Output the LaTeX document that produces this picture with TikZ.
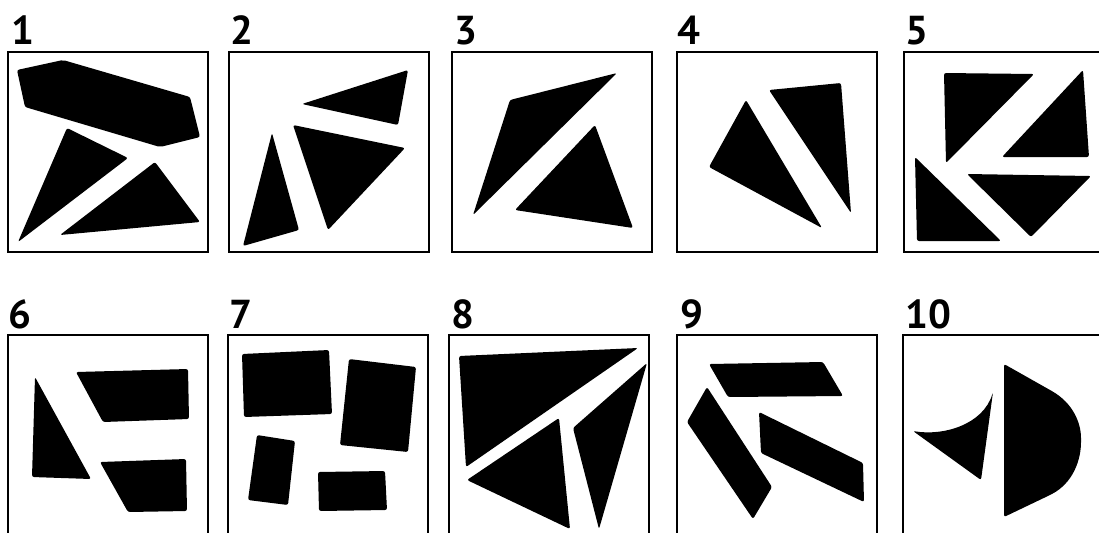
\documentclass[tikz,border=0pt]{standalone}
\usepackage{fontspec}
\setsansfont{PT Sans}
\tikzset{
  frame/.style={draw, line width=1.6pt},
  piece/.style={fill=black, rounded corners=1.2pt},
  num/.style={anchor=base west, inner sep=0pt, font=\sffamily\bfseries\fontsize{23}{23}\selectfont}
}
\begin{document}
\begin{tikzpicture}[x=0.02cm, y=-0.02cm]
    \useasboundingbox (0,0) rectangle (1099,532);

    % Size of each square panel
    \def\s{200}

    % Panel 1
    \begin{scope}[shift={(8,52)}]
        \node[num] (l1) at (3,-8) {1};
        \draw[frame] (0,0) rectangle (\s,\s);
        \fill[piece] (9,18) -- (55,8) -- (182,45) -- (192,85) -- (152,95) -- (17,55) -- cycle;
        \fill[piece] (59,76) -- (120,106) -- (10,190) -- cycle;
        \fill[piece] (147,110) -- (192,170) -- (52,183) -- cycle;
    \end{scope}

    % Panel 2
    \begin{scope}[shift={(229,52)}]
        \node[num] (l2) at (1,-8) {2};
        \draw[frame] (0,0) rectangle (\s,\s);
        \fill[piece] (73,52) -- (179,18) -- (169,73) -- cycle;
        \fill[piece] (64,73) -- (176,96) -- (99,178) -- cycle;
        \fill[piece] (43,81) -- (70,178) -- (14,194) -- cycle;
    \end{scope}

    % Panel 3
    \begin{scope}[shift={(452,52)}]
        \node[num] (l3) at (2,-8) {3};
        \draw[frame] (0,0) rectangle (\s,\s);
        \fill[piece] (58,48) -- (165,21) -- (21,163) -- cycle;
        \fill[piece] (143,73) -- (181,176) -- (63,158) -- cycle;
    \end{scope}

    % Panel 4
    \begin{scope}[shift={(677,52)}]
        \node[num] (l4) at (0,-8) {4};
        \draw[frame] (0,0) rectangle (\s,\s);
        \fill[piece] (69,48) -- (145,176) -- (32,115) -- cycle;
        \fill[piece] (92,38) -- (164,31) -- (174,161) -- cycle;
    \end{scope}

    % Panel 5
    \begin{scope}[shift={(904,52)}]
        \node[num] (l5) at (1,-8) {5};
        \draw[frame] (0,0) rectangle (\s,\s);
        \fill[piece] (40,21) -- (130,22) -- (42,111) -- cycle;
        \fill[piece] (179,18) -- (185,105) -- (98,105) -- cycle;
        \fill[piece] (11,105) -- (97,189) -- (13,189) -- cycle;
        \fill[piece] (63,122) -- (187,124) -- (127,185) -- cycle;
    \end{scope}

    % Panel 6
    \begin{scope}[shift={(8,335)}]
        \node[num] (l6) at (0,-7) {6};
        \draw[frame] (0,0) rectangle (\s,\s);
        \fill[piece] (27,42) -- (83,144) -- (24,142) -- cycle;
        \fill[piece] (68,37) -- (180,34) -- (181,84) -- (95,87) -- cycle;
        \fill[piece] (92,127) -- (178,124) -- (179,176) -- (120,177) -- cycle;
    \end{scope}

    % Panel 7
    \begin{scope}[shift={(228,335)}]
        \node[num] (l7) at (1,-7) {7};
        \draw[frame] (0,0) rectangle (\s,\s);
        \fill[piece] (14,19) -- (101,15) -- (104,79) -- (16,82) -- cycle;
        \fill[piece] (121,24) -- (188,32) -- (180,117) -- (112,110) -- cycle;
        \fill[piece] (29,100) -- (67,106) -- (60,170) -- (20,165) -- cycle;
        \fill[piece] (90,137) -- (157,136) -- (159,175) -- (91,176) -- cycle;
    \end{scope}

    % Panel 8
    \begin{scope}[shift={(449,335)}]
        \node[num] (l8) at (2,-7) {8};
        \draw[frame] (0,0) rectangle (\s,\s);
        \fill[piece] (10,21) -- (189,13) -- (17,132) -- cycle;
        \fill[piece] (18,145) -- (110,83) -- (121,194) -- cycle;
        \fill[piece] (198,28) -- (124,93) -- (150,194) -- cycle;
    \end{scope}

    % Panel 9
    \begin{scope}[shift={(677,335)}]
        \node[num] (l9) at (3,-7) {9};
        \draw[frame] (0,0) rectangle (\s,\s);
        \fill[piece] (32,29) -- (146,27) -- (166,61) -- (51,62) -- cycle;
        \fill[piece] (30,52) -- (95,152) -- (76,184) -- (10,87) -- cycle;
        \fill[piece] (82,77) -- (186,128) -- (187,167) -- (84,118) -- cycle;
    \end{scope}

    % Panel 10
    \begin{scope}[shift={(903,335)}]
        \node[num] (l10) at (2,-7) {10};
        \draw[frame] (0,0) rectangle (\s,\s);
        \fill[piece] (10,96) .. controls (40,101) and (80,90) .. (90,57) -- (78,145) -- cycle;
        \fill[piece] (101,29) -- (147,55) .. controls (170,68) and (178,88) .. (178,105)
            .. controls (178,125) and (170,148) .. (147,160) -- (101,182) -- cycle;
    \end{scope}

\end{tikzpicture}
\end{document}
